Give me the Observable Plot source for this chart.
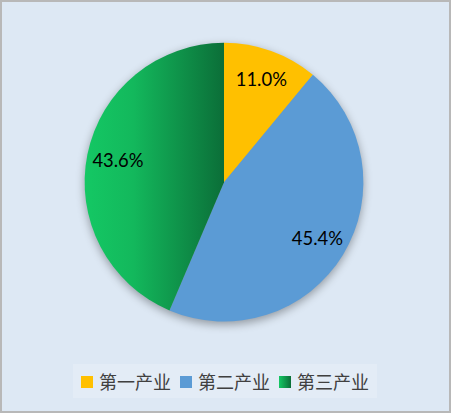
<!DOCTYPE html>
<html><head><meta charset="utf-8">
<script src="https://cdn.jsdelivr.net/npm/d3@7"></script>
<script src="https://cdn.jsdelivr.net/npm/@observablehq/plot@0.6"></script>
<style>
html,body{margin:0;padding:0;background:#fff;}
#frame{position:relative;width:451px;height:413px;box-sizing:border-box;border:2px solid #b8b8b8;background:#dde8f4;overflow:hidden;}
#chart{position:absolute;left:-2px;top:-2px;}
#legend{position:absolute;left:71px;top:362px;width:304px;height:34px;background:#e3ecf6;font-family:"Noto Sans CJK SC",sans-serif;font-size:18px;color:#404040;}
.item{position:absolute;top:4px;height:26px;line-height:26px;white-space:nowrap;letter-spacing:0px;}
.sw{display:inline-block;width:12px;height:12px;vertical-align:middle;margin-right:6px;position:relative;top:-2px;}
</style></head>
<body><div id="frame"><div id="chart"></div><div id="legend"></div></div>
<script>
const categories = ["第一产业", "第二产业", "第三产业"];
const shares = [11.0, 45.4, 43.6];
const labels = ["11.0%", "45.4%", "43.6%"];

const fills = ["#FFC000", "#5B9BD5", "url(#greenGrad)"];
const swatchFills = ["#FFC000", "#5B9BD5", "linear-gradient(to right,#14C864,#0B6E38)"];

const rows = categories.map((c, i) => ({category: c, value: shares[i], label: labels[i], i}));
const arcs = d3.pie().sort(null).value(d => d.value)(rows);
arcs.forEach(a => { a.data.mid = (a.startAngle + a.endAngle) / 2; });

const labelR = 0.78;

const pieMark = (index, scales) => {
  const cx = scales.x(0), cy = scales.y(0), r = scales.x(1) - scales.x(0);
  const g = d3.create("svg:g").attr("transform", `translate(${cx},${cy})`);
  const defs = g.append("defs");
  const lg = defs.append("linearGradient").attr("id", "greenGrad")
    .attr("gradientUnits", "userSpaceOnUse")
    .attr("x1", -r).attr("x2", 0).attr("y1", 0).attr("y2", 0);
  lg.append("stop").attr("offset", "0%").attr("stop-color", "#14C864");
  lg.append("stop").attr("offset", "35%").attr("stop-color", "#13B85C");
  lg.append("stop").attr("offset", "100%").attr("stop-color", "#0B6E38");
  const f = defs.append("filter").attr("id", "shadow").attr("x", "-20%").attr("y", "-20%").attr("width", "140%").attr("height", "140%");
  f.append("feGaussianBlur").attr("in", "SourceAlpha").attr("stdDeviation", 5);
  f.append("feOffset").attr("dy", 3).attr("result", "b");
  f.append("feComponentTransfer").append("feFuncA").attr("type", "linear").attr("slope", 0.35);
  g.append("circle").attr("r", r).attr("fill", "#000").attr("filter", "url(#shadow)");
  const arc = d3.arc().innerRadius(0).outerRadius(r);
  g.selectAll("path.slice").data(arcs).join("path")
    .attr("d", arc)
    .attr("fill", d => fills[d.data.i]);
  return g.node();
};

const chart = Plot.plot({
  width: 451,
  height: 360,
  margin: 0,
  style: {background: "transparent", overflow: "visible"},
  x: {domain: [-1, 1], range: [85, 365], axis: null},
  y: {domain: [-1, 1], range: [323, 43], axis: null},
  marks: [
    pieMark,
    Plot.text(arcs.map(a => a.data), {
      x: d => labelR * Math.sin(d.mid),
      y: d => labelR * Math.cos(d.mid),
      text: "label",
      fontSize: 18.5,
      fontFamily: "Lato, 'Liberation Sans', sans-serif",
      fill: "#000"
    })
  ]
});
document.getElementById("chart").append(chart);

const legend = document.getElementById("legend");
const lefts = [8, 107, 206];
categories.forEach((c, i) => {
  const it = document.createElement("div");
  it.className = "item";
  it.style.left = lefts[i] + "px";
  const sw = document.createElement("span");
  sw.className = "sw";
  sw.style.background = swatchFills[i];
  it.append(sw, document.createTextNode(c));
  legend.append(it);
});
</script></body></html>
